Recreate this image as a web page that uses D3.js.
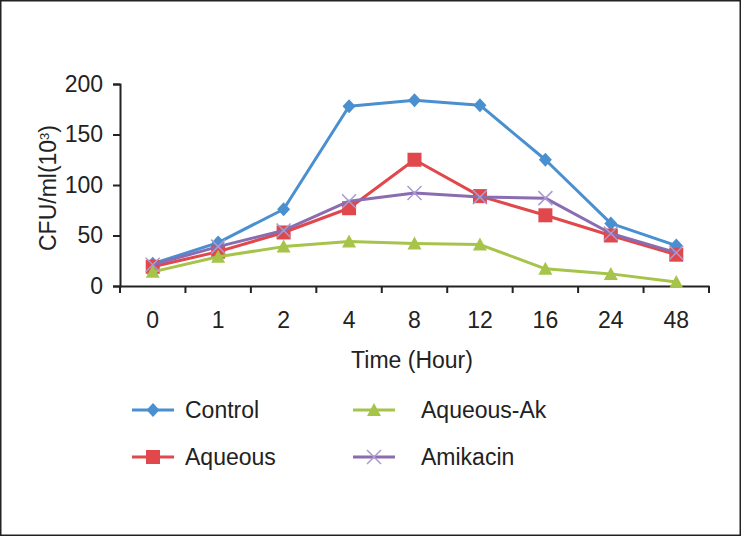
<!DOCTYPE html>
<html><head><meta charset="utf-8">
<script src="https://cdn.jsdelivr.net/npm/d3@7"></script>
<style>html,body{margin:0;padding:0;background:#fff;}svg{display:block;}</style>
</head><body>
<script>
const categories = ["0","1","2","4","8","12","16","24","48"];
const control   = [22, 43, 76, 178, 184, 179, 125, 62, 40];
const aqueous   = [19, 34, 53, 77, 125, 89, 70, 50, 31];
const aqueousAk = [14, 29, 39, 44, 42, 41, 17, 12, 4];
const amikacin  = [21, 39, 55, 84, 92, 88, 87, 52, 33];
const yTicks = [0, 50, 100, 150, 200];
const seriesNames = ["Control", "Aqueous", "Aqueous-Ak", "Amikacin"];

const W = 743, H = 537;
const font = "'Liberation Sans', Arial, sans-serif";
const FS = 23;
const svg = d3.select("body").append("svg").attr("width", W).attr("height", H);
svg.append("rect").attr("width", W).attr("height", H).attr("fill", "#fff");
svg.append("rect").attr("x", 0.75).attr("y", 0.75).attr("width", 739.5).attr("height", 534.5)
  .attr("fill", "none").attr("stroke", "#222").attr("stroke-width", 1.5);

const x = d3.scaleBand().domain(categories).range([120, 709]);
const y = d3.scaleLinear().domain([0, 200]).range([286, 84]);

const series = [
  {name: seriesNames[0], values: control,   color: "#4a8fcf", marker: "diamond"},
  {name: seriesNames[1], values: aqueous,   color: "#e0484b", marker: "square"},
  {name: seriesNames[2], values: aqueousAk, color: "#a6c44a", marker: "triangle"},
  {name: seriesNames[3], values: amikacin,  color: "#8a6db0", marker: "cross"}
];

// axes
const gx = svg.append("g").attr("transform", "translate(0,286)")
  .call(d3.axisBottom(x).tickSize(0).tickPadding(26));
gx.select(".domain").attr("stroke", "#222").attr("stroke-width", 2);
gx.selectAll("text").attr("font-family", font).attr("font-size", FS).attr("fill", "#222");
const edges = categories.map(c => x(c)).concat([x.range()[1]]);
gx.selectAll(".edge").data(edges).enter().append("line")
  .attr("x1", d => d).attr("x2", d => d).attr("y1", 0).attr("y2", 7)
  .attr("stroke", "#222").attr("stroke-width", 2);

const gy = svg.append("g").attr("transform", "translate(120,0)")
  .call(d3.axisLeft(y).tickValues(yTicks).tickSize(7).tickPadding(10).tickFormat(d3.format("d")));
gy.select(".domain").attr("stroke", "#222").attr("stroke-width", 2);
gy.selectAll(".tick line").attr("stroke", "#222").attr("stroke-width", 2);
gy.selectAll("text").attr("font-family", font).attr("font-size", FS).attr("fill", "#222");

// axis titles
const yl = svg.append("text").attr("transform", "translate(56,188) rotate(-90)")
  .attr("text-anchor", "middle").attr("font-family", font).attr("font-size", FS).attr("fill", "#222");
yl.append("tspan").text("CFU/ml(10");
yl.append("tspan").text("3").attr("font-size", 13).attr("baseline-shift", "super");
yl.append("tspan").text(")");

svg.append("text").attr("x", 412).attr("y", 368).attr("text-anchor", "middle")
  .attr("font-family", font).attr("font-size", FS).attr("fill", "#222").text("Time (Hour)");

function drawMarker(g, type, color, cx, cy) {
  if (type === "diamond") {
    g.append("path").attr("d", `M${cx},${cy - 7}L${cx + 6.5},${cy}L${cx},${cy + 7}L${cx - 6.5},${cy}Z`)
      .attr("fill", color);
  } else if (type === "square") {
    g.append("rect").attr("x", cx - 7).attr("y", cy - 7).attr("width", 14).attr("height", 14).attr("fill", color);
  } else if (type === "triangle") {
    g.append("path").attr("d", `M${cx},${cy - 7}L${cx + 7},${cy + 6}L${cx - 7},${cy + 6}Z`).attr("fill", color);
  } else {
    g.append("path").attr("d", `M${cx - 7},${cy - 7}L${cx + 7},${cy + 7}M${cx - 7},${cy + 7}L${cx + 7},${cy - 7}`)
      .attr("stroke", "#a99bd0").attr("stroke-width", 1.5).attr("fill", "none");
  }
}

const line = d3.line().x((d, i) => x(categories[i]) + x.bandwidth() / 2).y(d => y(d));
series.forEach(s => {
  const g = svg.append("g");
  g.append("path").datum(s.values).attr("d", line).attr("fill", "none")
    .attr("stroke", s.color).attr("stroke-width", 3).attr("stroke-linejoin", "round");
  s.values.forEach((v, i) => drawMarker(g, s.marker, s.color, x(categories[i]) + x.bandwidth() / 2, y(v)));
});

// legend
const legendPos = [[132, 410], [132, 457], [353, 410], [353, 457]];
series.forEach((s, i) => {
  const [lx, ly] = legendPos[i];
  const g = svg.append("g");
  g.append("line").attr("x1", lx).attr("x2", lx + 42).attr("y1", ly).attr("y2", ly)
    .attr("stroke", s.color).attr("stroke-width", 3);
  drawMarker(g, s.marker, s.color, lx + 21, ly);
  g.append("text").attr("x", i < 2 ? 185 : 421).attr("y", ly).attr("dy", "0.36em")
    .attr("font-family", font).attr("font-size", FS).attr("fill", "#222").text(s.name);
});
</script>
</body></html>
